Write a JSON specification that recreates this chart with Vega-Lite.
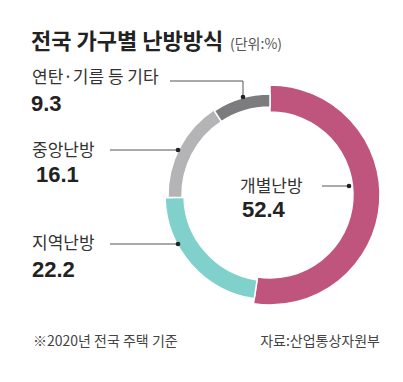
{
  "$schema": "https://vega.github.io/schema/vega-lite/v6.json",
  "width": 403,
  "height": 382,
  "autosize": {"type": "fit", "contains": "padding"},
  "padding": 0,
  "background": "white",
  "config": {"view": {"stroke": null}, "font": "Noto Sans CJK KR"},
  "data": {"values": [
    {"name": "개별난방", "value": 52.4},
    {"name": "지역난방", "value": 22.2},
    {"name": "중앙난방", "value": 16.1},
    {"name": "연탄·기름 등 기타", "value": 9.3}
  ]},
  "encoding": {
    "x": {"type": "quantitative", "scale": {"type": "linear", "domain": [0, 403], "nice": false, "zero": false}, "axis": null},
    "y": {"type": "quantitative", "scale": {"type": "linear", "domain": [0, 382], "nice": false, "zero": false, "reverse": true}, "axis": null}
  },
  "layer": [
    {
      "transform": [
        {"stack": "value", "groupby": [], "sort": [{"field": "value", "order": "descending"}], "as": ["v0", "v1"]}
      ],
      "encoding": {
        "theta": {"field": "v0", "type": "quantitative", "scale": {"domain": [0, 100]}},
        "theta2": {"field": "v1"},
        "x": {"datum": 270},
        "y": {"datum": 195},
        "color": {"field": "name", "type": "nominal", "legend": null,
          "scale": {"domain": ["개별난방", "지역난방", "중앙난방", "연탄·기름 등 기타"],
                    "range": ["#bf557d", "#80d0cc", "#b4b4b6", "#7c7c7e"]}}
      },
      "layer": [
        {"transform": [{"filter": "datum.name === '개별난방'"}], "mark": {"type": "arc", "radius": 110, "radius2": 83, "stroke": "white", "strokeWidth": 1.5}},
        {"transform": [{"filter": "datum.name === '지역난방'"}], "mark": {"type": "arc", "radius": 105, "radius2": 86, "stroke": "white", "strokeWidth": 1.5}},
        {"transform": [{"filter": "datum.name === '중앙난방'"}], "mark": {"type": "arc", "radius": 102, "radius2": 88, "stroke": "white", "strokeWidth": 1.5}},
        {"transform": [{"filter": "datum.name === '연탄·기름 등 기타'"}], "mark": {"type": "arc", "radius": 101, "radius2": 88, "stroke": "white", "strokeWidth": 1.5}}
      ]
    },
    {
      "transform": [{"filter": "datum.name === '연탄·기름 등 기타'"}],
      "layer": [
        {"mark": {"type": "rule", "color": "#555", "strokeWidth": 1}, "encoding": {"x": {"datum": 170}, "x2": {"datum": 243}, "y": {"datum": 81}}},
        {"mark": {"type": "rule", "color": "#555", "strokeWidth": 1}, "encoding": {"x": {"datum": 243}, "y": {"datum": 81}, "y2": {"datum": 97}}},
        {"mark": {"type": "point", "filled": true, "color": "#222", "size": 22, "opacity": 1}, "encoding": {"x": {"datum": 243}, "y": {"datum": 97}}},
        {"mark": {"type": "text", "align": "left", "baseline": "middle", "fontSize": 17, "color": "#333"}, "encoding": {"x": {"datum": 32}, "y": {"datum": 78}, "text": {"field": "name"}}},
        {"mark": {"type": "text", "align": "left", "baseline": "middle", "fontSize": 22, "fontWeight": "bold", "color": "#222", "font": "Liberation Sans", "letterSpacing": -1}, "encoding": {"x": {"datum": 31}, "y": {"datum": 104}, "text": {"field": "value", "format": ".1f"}}}
      ]
    },
    {
      "transform": [{"filter": "datum.name === '중앙난방'"}],
      "layer": [
        {"mark": {"type": "rule", "color": "#555", "strokeWidth": 1}, "encoding": {"x": {"datum": 110}, "x2": {"datum": 178}, "y": {"datum": 150}}},
        {"mark": {"type": "point", "filled": true, "color": "#222", "size": 22, "opacity": 1}, "encoding": {"x": {"datum": 178}, "y": {"datum": 150}}},
        {"mark": {"type": "text", "align": "left", "baseline": "middle", "fontSize": 17, "color": "#333"}, "encoding": {"x": {"datum": 32}, "y": {"datum": 151}, "text": {"field": "name"}}},
        {"mark": {"type": "text", "align": "left", "baseline": "middle", "fontSize": 22, "fontWeight": "bold", "color": "#222", "font": "Liberation Sans", "letterSpacing": -1}, "encoding": {"x": {"datum": 36}, "y": {"datum": 175}, "text": {"field": "value", "format": ".1f"}}}
      ]
    },
    {
      "transform": [{"filter": "datum.name === '지역난방'"}],
      "layer": [
        {"mark": {"type": "rule", "color": "#555", "strokeWidth": 1}, "encoding": {"x": {"datum": 110}, "x2": {"datum": 178}, "y": {"datum": 244}}},
        {"mark": {"type": "point", "filled": true, "color": "#222", "size": 22, "opacity": 1}, "encoding": {"x": {"datum": 178}, "y": {"datum": 244}}},
        {"mark": {"type": "text", "align": "left", "baseline": "middle", "fontSize": 17, "color": "#333"}, "encoding": {"x": {"datum": 32}, "y": {"datum": 244}, "text": {"field": "name"}}},
        {"mark": {"type": "text", "align": "left", "baseline": "middle", "fontSize": 22, "fontWeight": "bold", "color": "#222", "font": "Liberation Sans", "letterSpacing": -1}, "encoding": {"x": {"datum": 32}, "y": {"datum": 270}, "text": {"field": "value", "format": ".1f"}}}
      ]
    },
    {
      "transform": [{"filter": "datum.name === '개별난방'"}],
      "layer": [
        {"mark": {"type": "rule", "color": "#555", "strokeWidth": 1}, "encoding": {"x": {"datum": 322}, "x2": {"datum": 349}, "y": {"datum": 186}}},
        {"mark": {"type": "point", "filled": true, "color": "#222", "size": 22, "opacity": 1}, "encoding": {"x": {"datum": 349}, "y": {"datum": 186}}},
        {"mark": {"type": "text", "align": "left", "baseline": "middle", "fontSize": 17, "color": "#333"}, "encoding": {"x": {"datum": 240}, "y": {"datum": 187}, "text": {"field": "name"}}},
        {"mark": {"type": "text", "align": "left", "baseline": "middle", "fontSize": 22, "fontWeight": "bold", "color": "#222", "font": "Liberation Sans", "letterSpacing": -1}, "encoding": {"x": {"datum": 242}, "y": {"datum": 210}, "text": {"field": "value", "format": ".1f"}}}
      ]
    },
    {
      "data": {"values": [{"t": "전국 가구별 난방방식"}]},
      "mark": {"type": "text", "align": "left", "baseline": "middle", "fontSize": 22, "fontWeight": "bold", "color": "#222"},
      "encoding": {"x": {"datum": 31}, "y": {"datum": 42}, "text": {"field": "t"}}
    },
    {
      "data": {"values": [{"t": "(단위:%)"}]},
      "mark": {"type": "text", "align": "left", "baseline": "middle", "fontSize": 14, "color": "#555"},
      "encoding": {"x": {"datum": 230}, "y": {"datum": 45}, "text": {"field": "t"}}
    },
    {
      "data": {"values": [{"t": "※2020년 전국 주택 기준"}]},
      "mark": {"type": "text", "align": "left", "baseline": "middle", "fontSize": 14, "color": "#444"},
      "encoding": {"x": {"datum": 33}, "y": {"datum": 342}, "text": {"field": "t"}}
    },
    {
      "data": {"values": [{"t": "자료:산업통상자원부"}]},
      "mark": {"type": "text", "align": "right", "baseline": "middle", "fontSize": 14, "color": "#444"},
      "encoding": {"x": {"datum": 380}, "y": {"datum": 342}, "text": {"field": "t"}}
    }
  ]
}
